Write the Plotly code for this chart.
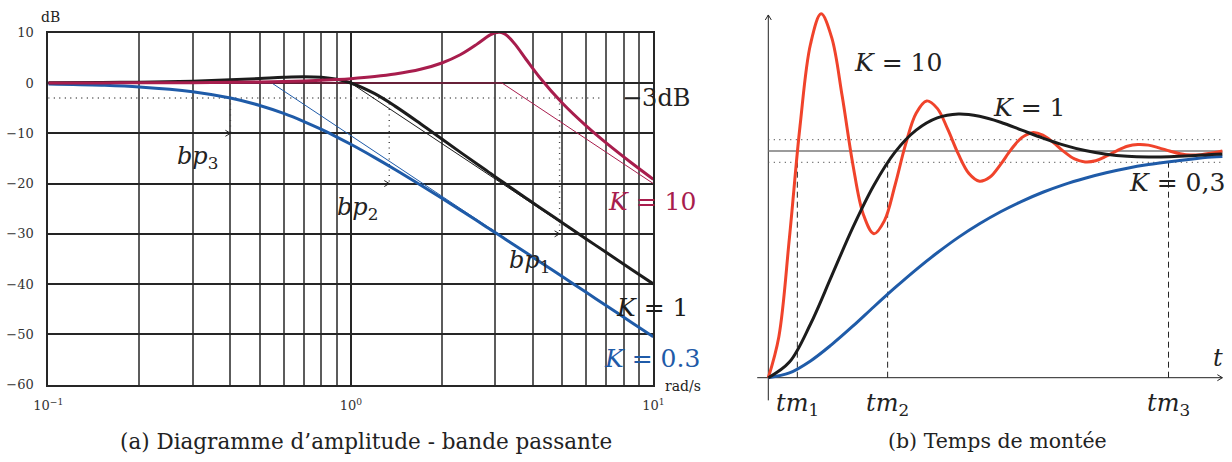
import plotly.graph_objects as go

W, H = 1232, 462

# ---------------- data : left panel (Bode magnitude, dB) ----------------
omega = [0.1, 0.15, 0.2, 0.3, 0.4, 0.5, 0.6, 0.7, 0.8, 0.9, 1.0, 1.2, 1.4, 1.7, 2.0, 2.3,
         2.6, 2.8, 2.9, 3.0, 3.1, 3.2, 3.3, 3.5, 3.8, 4.2, 5.0, 6.0, 7.0, 8.5, 10.0]
mag_k10 = [0.01, 0.02, 0.03, 0.07, 0.13, 0.21, 0.30, 0.41, 0.54, 0.69, 0.86, 1.27, 1.77, 2.72,
           3.98, 5.61, 7.63, 9.03, 9.61, 10.00, 10.11, 9.87, 9.33, 7.62, 4.67, 1.19, -3.98,
           -8.53, -11.96, -15.96, -19.14]
mag_k1 = [0.04, 0.10, 0.17, 0.37, 0.63, 0.90, 1.14, 1.25, 1.14, 0.73, 0.00, -2.13, -4.60, -8.10,
          -11.14, -13.75, -16.01, -17.37, -18.02, -18.63, -19.23, -19.81, -20.36, -21.42,
          -22.90, -24.69, -27.79, -31.01, -33.72, -37.12, -39.96]
mag_k03 = [-0.19, -0.44, -0.78, -1.73, -3.00, -4.48, -6.06, -7.67, -9.24, -10.75, -12.19,
           -14.84, -17.19, -20.28, -22.94, -25.26, -27.31, -28.57, -29.16, -29.74, -30.29,
           -30.83, -31.36, -32.36, -33.77, -35.49, -38.49, -41.63, -44.30, -47.66, -50.48]

asym_w_k10 = [0.1, 3.16, 10.0]
asym_k10 = [0.0, 0.0, -20.0]
asym_w_k1 = [0.1, 1.0, 10.0]
asym_k1 = [0.0, 0.0, -40.0]
asym_w_k03 = [0.1, 0.548, 10.0]
asym_k03 = [0.0, 0.0, -50.5]

bp_w = [4.9, 1.34, 0.4]          # bp1, bp2, bp3
bp_level = [-30, -20, -10]
bp_names = ["1", "2", "3"]
minus3_end = 6.8

x_major = [0.1, 1, 10]
x_major_text = ["10<sup>\u22121</sup>", "10<sup>0</sup>", "10<sup>1</sup>"]
x_minor = [0.2, 0.3, 0.4, 0.5, 0.6, 0.7, 0.8, 0.9, 2, 3, 4, 5, 6, 7, 8, 9]
y_tickvals = [10, 0, -10, -20, -30, -40, -50, -60]
y_ticktext = ["10", "0", "\u221210", "\u221220", "\u221230", "\u221240", "\u221250", "\u221260"]

# ---------------- data : right panel (step responses) ----------------
t_fast = [0.0, 0.2, 0.4, 0.6, 0.8, 1.0, 1.2, 1.4, 1.6, 1.8, 2.0, 2.2, 2.4, 2.6, 2.8, 3.0,
          3.2, 3.4, 3.6, 3.8, 4.0, 4.2, 4.4, 4.6, 4.8, 5.0, 5.2, 5.4, 5.6, 5.8, 6.0, 6.2,
          6.4, 6.6, 6.8, 7.0, 7.2, 7.4, 7.6, 7.8, 8.0, 8.2, 8.4, 8.6]
step_k10 = [0.0, 0.181, 0.617, 1.108, 1.472, 1.605, 1.501, 1.241, 0.943, 0.720, 0.635, 0.693,
            0.849, 1.029, 1.167, 1.221, 1.188, 1.095, 0.986, 0.901, 0.867, 0.885, 0.941,
            1.007, 1.059, 1.081, 1.070, 1.037, 0.997, 0.965, 0.952, 0.957, 0.977, 1.001,
            1.021, 1.029, 1.026, 1.014, 1.000, 0.988, 0.982, 0.984, 0.991, 1.000]
t_slow = [0.0, 0.4, 0.8, 1.2, 1.6, 2.0, 2.4, 2.8, 3.2, 3.6, 4.0, 4.4, 4.8, 5.2, 5.6, 6.0,
          6.4, 6.8, 7.2, 7.6, 8.0, 8.4, 8.6]
step_k1 = [0.0, 0.069, 0.237, 0.449, 0.662, 0.849, 0.995, 1.092, 1.146, 1.163, 1.153, 1.127,
           1.092, 1.057, 1.026, 1.002, 0.986, 0.977, 0.974, 0.975, 0.979, 0.985, 0.987]
step_k03 = [0.0, 0.021, 0.074, 0.146, 0.227, 0.313, 0.397, 0.477, 0.551, 0.619, 0.679, 0.732,
            0.778, 0.818, 0.852, 0.880, 0.904, 0.924, 0.940, 0.953, 0.964, 0.973, 0.976]
tm = [0.55, 2.26, 7.58]
final_value = 1.0
band = [0.95, 1.05]
t_axis = [-0.21, 8.6]
v_axis = [-0.10, 1.6]

# ---------------- styles ----------------
CRIMSON = "#a81d4d"
RED = "#f0432b"
BLUE = "#1f5ba8"
BLACK = "#1c1c1c"
SERIF = "DejaVu Serif"

# geometry (pixels) used to place the two panels
L_X0, L_X1 = 48.3, 653.3
L_YTOP, L_YBOT = 32.7, 384.7
PPD = (L_X1 - L_X0) / 2.0          # px per decade
PPDB = (L_YBOT - L_YTOP) / 70.0    # px per dB
R_X0 = 740.0
T0_PX, T_SCALE = 768.3, 52.8
V0_PX, V_SCALE = 377.7, 226.7

fig = go.Figure()


def line(x, y, color, width, dash=None, xa="x", ya="y", shape="linear"):
    fig.add_trace(go.Scatter(x=x, y=y, mode="lines", xaxis=xa, yaxis=ya,
                             line=dict(color=color, width=width, dash=dash, shape=shape),
                             hoverinfo="skip", showlegend=False))


# ---- left panel ----
line([0.1, minus3_end], [-3, -3], "#444", 1.4, dash="1px,4.5px")
for w, lev in zip(bp_w, bp_level):
    line([w, w], [-3, lev], "#444", 1.4, dash="1px,4.5px")
    line([0.1, w], [lev, lev], "#222", 0.8)
    f = 10 ** (-5 / PPD)
    line([w * f, w, w * f], [lev + 3 / PPDB, lev, lev - 3 / PPDB], "#222", 1.0)

line(asym_w_k03, asym_k03, BLUE, 1.0)
line(asym_w_k1, asym_k1, BLACK, 1.0)
line(asym_w_k10, asym_k10, CRIMSON, 1.0)
line(omega, mag_k03, BLUE, 3.0, shape="spline")
line(omega, mag_k1, BLACK, 3.0, shape="spline")
line(omega, mag_k10, CRIMSON, 3.0, shape="spline")

# ---- right panel ----
R = dict(xa="x2", ya="y2")
line([t_axis[0], t_axis[1]], [0, 0], "#222", 1.0, **R)
line([0, 0], [v_axis[0], v_axis[1]], "#222", 1.0, **R)
line([t_axis[1] - 5 / T_SCALE, t_axis[1], t_axis[1] - 5 / T_SCALE],
     [3 / V_SCALE, 0, -3 / V_SCALE], "#222", 1.0, **R)
line([-3 / T_SCALE, 0, 3 / T_SCALE],
     [v_axis[1] - 5 / V_SCALE, v_axis[1], v_axis[1] - 5 / V_SCALE], "#222", 1.0, **R)
for b in band:
    line([0, t_axis[1]], [b, b], "#555", 1.3, dash="1px,4.5px", **R)
line([0, t_axis[1]], [final_value, final_value], "#7a7a7a", 1.6, **R)
for tv in tm:
    line([tv, tv], [0, band[0]], "#222", 1.0, dash="6px,4px", **R)
line(t_slow, step_k03, BLUE, 3.0, shape="spline", **R)
line(t_fast, step_k10, RED, 3.0, shape="spline", **R)
line(t_slow, step_k1, BLACK, 3.0, shape="spline", **R)

# ---- texts ----
ann = []


def text(s, xp, yp, size, color="#222", xanchor="center"):
    ann.append(dict(text=s, x=xp / W, y=1 - yp / H, xref="paper", yref="paper",
                    showarrow=False, xanchor=xanchor, yanchor="middle",
                    font=dict(family=SERIF, size=size, color=color)))


text("dB", 50, 17, 14)
text("rad/s", 683, 386, 14)
text("\u22123dB", 656, 98, 24)
text("<i>K</i> = 10", 652, 201, 25, CRIMSON)
text("<i>K</i> = 1", 652, 307, 25, BLACK)
text("<i>K</i> = 0.3", 652, 358, 25, BLUE)
for nm, (xp, yp) in zip(bp_names, [(529, 261), (357, 208), (197, 157)]):
    text("<i>bp</i><sub>%s</sub>" % nm, xp, yp, 24)

text("<i>K</i> = 10", 898, 62, 25)
text("<i>K</i> = 1", 1029, 107, 25)
text("<i>K</i> = 0,3", 1177, 183, 25)
text("<i>t</i>", 1218, 358, 24)
for i, tv in enumerate(tm):
    text("<i>tm</i><sub>%d</sub>" % (i + 1), T0_PX + tv * T_SCALE, 404, 24)

text("(a) Diagramme d\u2019amplitude - bande passante", 366, 441, 21.5)
text("(b) Temps de mont\u00e9e", 997, 441, 20.5)

fig.update_layout(
    width=W, height=H, margin=dict(l=0, r=0, t=0, b=0, autoexpand=False),
    paper_bgcolor="white", plot_bgcolor="white", showlegend=False,
    annotations=ann,
    xaxis=dict(type="log", range=[-1, 1], domain=[L_X0 / W, L_X1 / W], anchor="y",
               tickvals=x_major, ticktext=x_major_text, ticks="", automargin=False,
               showgrid=True, gridcolor="#262626", gridwidth=2.2, zeroline=False,
               minor=dict(tickvals=x_minor, showgrid=True, gridcolor="#5c5c5c",
                          gridwidth=1.6, ticks=""),
               showline=True, mirror=True, linecolor="#262626", linewidth=2,
               tickfont=dict(family=SERIF, size=13, color="#333"), ticklabelstandoff=8),
    yaxis=dict(range=[-60, 10], domain=[1 - L_YBOT / H, 1 - L_YTOP / H], anchor="x",
               tickvals=y_tickvals, ticktext=y_ticktext, ticks="", automargin=False,
               showgrid=True, gridcolor="#262626", gridwidth=2, zeroline=False,
               showline=True, mirror=True, linecolor="#262626", linewidth=2,
               tickfont=dict(family=SERIF, size=13, color="#333"), ticklabelstandoff=10),
    xaxis2=dict(range=[(R_X0 - T0_PX) / T_SCALE, (W - T0_PX) / T_SCALE],
                domain=[R_X0 / W, 1.0], anchor="y2", visible=False, automargin=False),
    yaxis2=dict(range=[(V0_PX - H) / V_SCALE, V0_PX / V_SCALE], domain=[0, 1],
                anchor="x2", visible=False, automargin=False),
)

fig.write_html("out.html", config={"displayModeBar": False},
               post_script="document.body.style.margin='0';")
